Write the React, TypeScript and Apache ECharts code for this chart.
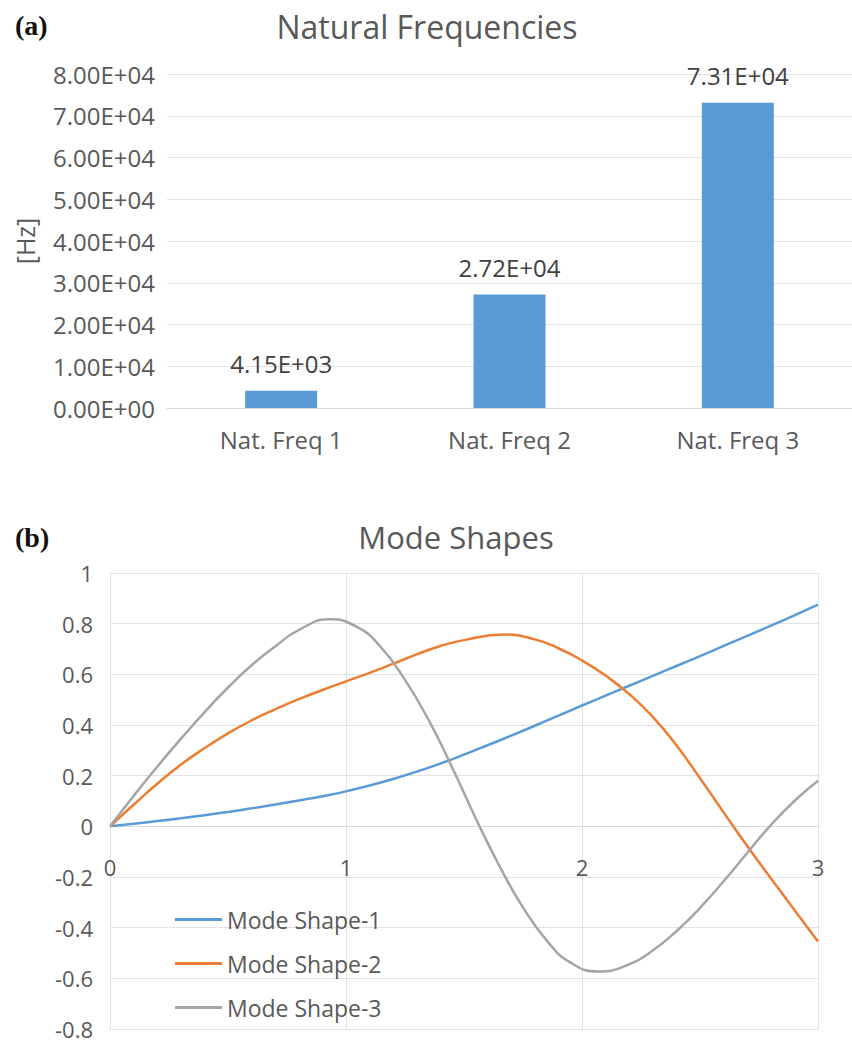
import React, { useEffect, useRef } from "react";
import * as echarts from "echarts";

const categories = ["Nat. Freq 1", "Nat. Freq 2", "Nat. Freq 3"];
const natFreq = [4150, 27200, 73100];

const mode1X = [0, 0.1, 0.2, 0.3, 0.4, 0.5, 0.6, 0.7, 0.8, 0.9, 1.0, 1.1, 1.2, 1.3, 1.4, 1.5, 1.6, 1.7, 1.8, 1.9, 2.0, 2.1, 2.2, 2.3, 2.4, 2.5, 2.6, 2.7, 2.8, 2.9, 3.0];
const mode1 = [0, 0.01, 0.021, 0.032, 0.044, 0.057, 0.071, 0.086, 0.102, 0.119, 0.138, 0.161, 0.187, 0.216, 0.248, 0.283, 0.32, 0.358, 0.397, 0.437, 0.477, 0.516, 0.555, 0.594, 0.633, 0.672, 0.712, 0.752, 0.792, 0.833, 0.875];

const mode2X = [0, 0.1, 0.2, 0.3, 0.4, 0.5, 0.6, 0.7, 0.8, 0.9, 1.0, 1.1, 1.2, 1.3, 1.4, 1.5, 1.67, 1.8, 1.9, 2.0, 2.1, 2.2, 2.3, 2.4, 2.5, 2.6, 2.7, 2.8, 2.9, 3.0];
const mode2 = [0, 0.085, 0.168, 0.243, 0.308, 0.367, 0.418, 0.462, 0.502, 0.538, 0.572, 0.606, 0.642, 0.679, 0.712, 0.735, 0.757, 0.738, 0.703, 0.655, 0.595, 0.522, 0.432, 0.32, 0.19, 0.055, -0.078, -0.205, -0.33, -0.455];

const mode3X = [0, 0.1, 0.2, 0.3, 0.4, 0.5, 0.6, 0.7, 0.8, 0.93, 1.05, 1.15, 1.25, 1.35, 1.45, 1.55, 1.65, 1.75, 1.85, 1.95, 2.07, 2.2, 2.3, 2.4, 2.5, 2.6, 2.7, 2.8, 2.9, 3.0];
const mode3 = [0, 0.12, 0.235, 0.345, 0.45, 0.548, 0.636, 0.71, 0.775, 0.817, 0.785, 0.705, 0.578, 0.42, 0.232, 0.031, -0.156, -0.32, -0.45, -0.537, -0.573, -0.545, -0.49, -0.414, -0.322, -0.217, -0.105, 0.005, 0.1, 0.18];

const seriesNames = ["Mode Shape-1", "Mode Shape-2", "Mode Shape-3"];
const seriesColors = ["#5b9bd5", "#ed7d31", "#a5a5a5"];

const Y2_MIN = -0.8;
const Y2_MAX = 1;
const Y2_STEP = 0.2;

function sci(v: number): string {
  if (v === 0) return "0.00E+00";
  const e = Math.floor(Math.log10(Math.abs(v)) + 1e-9);
  const m = v / Math.pow(10, e);
  return m.toFixed(2) + "E" + (e >= 0 ? "+" : "-") + String(Math.abs(e)).padStart(2, "0");
}

const FONT = "'Open Sans', sans-serif";
const LABEL = "#595959";
const GRID = "#e2e2e2";

export default function App() {
  const ref = useRef<HTMLDivElement>(null);
  useEffect(() => {
    if (!ref.current) return;
    const chart = echarts.init(ref.current, null, { renderer: "svg" });
    const modes = [
      { xs: mode1X, ys: mode1 },
      { xs: mode2X, ys: mode2 },
      { xs: mode3X, ys: mode3 },
    ];
    const grid2H = 456;
    const zeroOffset = -grid2H * (0 - Y2_MIN) / (Y2_MAX - Y2_MIN);
    chart.setOption({
      animation: false,
      textStyle: { fontFamily: FONT },
      graphic: [
        { type: "text", x: 15, y: 25, style: { text: "(a)", fontFamily: "'Liberation Serif', serif", fontWeight: "bold", fontSize: 28, fill: "#111", verticalAlign: "middle" } },
        { type: "text", x: 427, y: 26, style: { text: "Natural Frequencies", fontFamily: FONT, fontSize: 32, fill: LABEL, align: "center", verticalAlign: "middle" } },
        { type: "text", x: 15, y: 537, style: { text: "(b)", fontFamily: "'Liberation Serif', serif", fontWeight: "bold", fontSize: 28, fill: "#111", verticalAlign: "middle" } },
        { type: "text", x: 456, y: 537, style: { text: "Mode Shapes", fontFamily: FONT, fontSize: 31, fill: LABEL, align: "center", verticalAlign: "middle" } },
      ],
      legend: {
        data: seriesNames,
        orient: "vertical",
        left: 175,
        top: 908,
        padding: 0,
        icon: "rect",
        itemWidth: 47,
        itemHeight: 3,
        itemGap: 21,
        textStyle: { color: LABEL, fontSize: 23, fontFamily: FONT, lineHeight: 22 },
      },
      grid: [
        { left: 167, top: 74, width: 693, height: 334 },
        { left: 110, top: 573, width: 708, height: grid2H },
      ],
      xAxis: [
        {
          gridIndex: 0,
          type: "category",
          data: categories,
          axisLine: { lineStyle: { color: "#d9d9d9" } },
          axisTick: { show: false },
          axisLabel: { color: LABEL, fontSize: 24, margin: 19, fontFamily: FONT },
        },
        {
          gridIndex: 1,
          type: "value",
          min: 0,
          max: 3,
          interval: 1,
          offset: zeroOffset,
          axisLine: { onZero: false, lineStyle: { color: "#d9d9d9" } },
          axisTick: { show: false },
          splitLine: { show: true, lineStyle: { color: GRID } },
          axisLabel: { color: LABEL, fontSize: 22, margin: 30, fontFamily: FONT },
        },
      ],
      yAxis: [
        {
          gridIndex: 0,
          type: "value",
          min: 0,
          max: 80000,
          interval: 10000,
          axisLine: { show: false },
          axisTick: { show: false },
          splitLine: { lineStyle: { color: GRID } },
          axisLabel: { color: LABEL, fontSize: 24, margin: 12, fontFamily: FONT, formatter: (v: number) => sci(v) },
          name: "[Hz]",
          nameLocation: "middle",
          nameRotate: 90,
          nameGap: 130,
          nameTextStyle: { color: LABEL, fontSize: 25, fontFamily: FONT },
        },
        {
          gridIndex: 1,
          type: "value",
          min: Y2_MIN,
          max: Y2_MAX,
          interval: Y2_STEP,
          axisLine: { show: true, onZero: false, lineStyle: { color: GRID } },
          axisTick: { show: false },
          splitLine: { lineStyle: { color: GRID } },
          axisLabel: { color: LABEL, fontSize: 22, margin: 17, fontFamily: FONT, formatter: (v: number) => String(Number(v.toFixed(1))) },
        },
      ],
      series: [
        {
          type: "bar",
          xAxisIndex: 0,
          yAxisIndex: 0,
          data: natFreq,
          barWidth: 72,
          itemStyle: { color: "#5b9bd5" },
          label: { show: true, position: "top", distance: 15, color: "#404040", fontSize: 24, fontFamily: FONT, formatter: (p: any) => sci(p.value) },
        },
        ...modes.map((m, k) => ({
          type: "line",
          name: seriesNames[k],
          xAxisIndex: 1,
          yAxisIndex: 1,
          data: m.xs.map((x, i) => [x, m.ys[i]]),
          smooth: 0.5,
          symbol: "none",
          lineStyle: { color: seriesColors[k], width: 2.5 },
          itemStyle: { color: seriesColors[k] },
        })),
      ],
    });
    return () => chart.dispose();
  }, []);
  return <div ref={ref} style={{ position: "absolute", left: 0, top: 0, width: 852, height: 1043, background: "#fff" }} />;
}
